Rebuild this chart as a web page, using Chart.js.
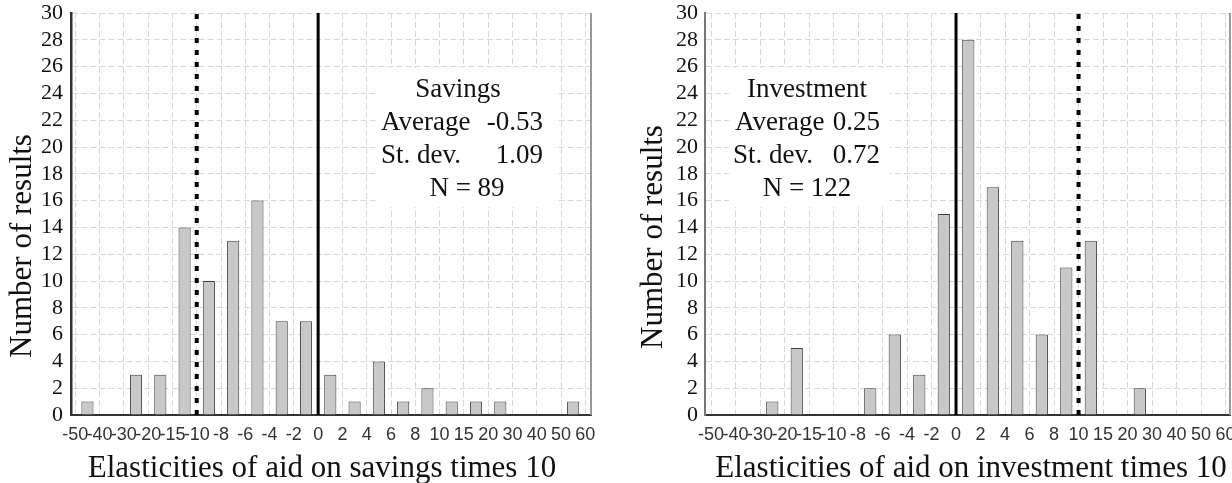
<!DOCTYPE html>
<html><head><meta charset="utf-8">
<script src="https://cdn.jsdelivr.net/npm/chart.js@4.4.0/dist/chart.umd.min.js"></script>
<style>
html,body{margin:0;padding:0;background:#fff;overflow:hidden;width:1232px;height:483px}
#cl{position:absolute;left:0;top:0}
#cr{position:absolute;left:616px;top:0}
</style></head><body>
<canvas id="cl" width="616" height="483"></canvas>
<canvas id="cr" width="616" height="483"></canvas>
<script>
// ---- data ----
const binEdges = ["-50","-40","-30","-20","-15","-10","-8","-6","-4","-2","0","2","4","6","8","10","15","20","30","40","50","60"];
const savingsCounts    = [1,0,3,3,14,10,13,16,7,7,3,1,4,1,2,1,1,1,0,0,1];
const investmentCounts = [0,0,1,5,0,0,2,6,3,15,28,17,13,6,11,13,0,2,0,0,0];
const yTickValues = [0,2,4,6,8,10,12,14,16,18,20,22,24,26,28,30];
const savingsRefLines    = {solid: "0", dotted: "-10"};
const investmentRefLines = {solid: "0", dotted: "10"};
const savingsStats    = {title: "Savings",    avgLabel: "Average", avg: "-0.53", sdLabel: "St. dev.", sd: "1.09", n: "N = 89"};
const investmentStats = {title: "Investment", avgLabel: "Average", avg: "0.25",  sdLabel: "St. dev.", sd: "0.72", n: "N = 122"};
const yTitle = "Number of results";
const savingsXTitle = "Elasticities of aid on savings times 10";
const investmentXTitle = "Elasticities of aid on investment times 10";

const SERIF = '"Liberation Serif","Times New Roman",serif';
const SANS = '"Liberation Sans Narrow","Arial Narrow","Liberation Sans",Arial,sans-serif';

function makeChart(id, counts, refLines, stats, xTitle, cfg) {
  const data = counts.map((v, i) => ({x: i + 0.5, y: v}));
  const refPlugin = {
    id: 'deco' + id,
    beforeDatasetsDraw(chart) {
      const ctx = chart.ctx;
      const a = chart.chartArea;
      ctx.save();
      ctx.fillStyle = '#fff';
      ctx.fillRect(cfg.box[0], cfg.box[1], cfg.box[2] - cfg.box[0], cfg.box[3] - cfg.box[1]);
      ctx.strokeStyle = '#999';
      ctx.lineWidth = 2;
      ctx.beginPath();
      ctx.moveTo(a.right, a.top);
      ctx.lineTo(a.right, a.bottom);
      ctx.stroke();
      ctx.restore();
    },
    afterDatasetsDraw(chart) {
      const ctx = chart.ctx;
      const xs = chart.scales.x;
      const ys = chart.scales.y;
      ctx.save();
      const xs0 = xs.getPixelForValue(binEdges.indexOf(refLines.solid));
      ctx.strokeStyle = '#000';
      ctx.lineWidth = 3;
      ctx.beginPath();
      ctx.moveTo(xs0, ys.getPixelForValue(0));
      ctx.lineTo(xs0, ys.getPixelForValue(30));
      ctx.stroke();
      const xd = xs.getPixelForValue(binEdges.indexOf(refLines.dotted));
      ctx.lineWidth = 4;
      ctx.setLineDash([5, 7]);
      ctx.beginPath();
      ctx.moveTo(xd, ys.getPixelForValue(0));
      ctx.lineTo(xd, ys.getPixelForValue(30));
      ctx.stroke();
      ctx.setLineDash([]);
      ctx.fillStyle = '#111';
      ctx.font = '27px ' + SERIF;
      ctx.textBaseline = 'alphabetic';
      ctx.textAlign = 'center';
      ctx.fillText(stats.title, cfg.titleX, 96.5);
      ctx.fillText(stats.n, cfg.nX, 196);
      ctx.textAlign = 'left';
      ctx.fillText(stats.avgLabel, cfg.avgL, 130);
      ctx.fillText(stats.sdLabel, cfg.sdL, 163);
      ctx.textAlign = 'right';
      ctx.fillText(stats.avg, cfg.numR, 130);
      ctx.fillText(stats.sd, cfg.numR, 163);
      ctx.font = '31px ' + SERIF;
      ctx.textAlign = 'center';
      ctx.fillText(xTitle, cfg.xTitleX, 477);
      ctx.translate(cfg.yTitleX, cfg.yTitleY);
      ctx.rotate(-Math.PI / 2);
      ctx.fillText(yTitle, 0, 0);
      ctx.restore();
    }
  };
  return new Chart(document.getElementById(id), {
    type: 'bar',
    data: {
      datasets: [{
        data: data,
        backgroundColor: '#c8c8c8',
        borderColor: '#404040',
        borderWidth: 1,
        categoryPercentage: 1,
        barPercentage: 0.5
      }]
    },
    options: {
      responsive: false,
      animation: false,
      devicePixelRatio: 1,
      layout: {padding: {left: 0, right: cfg.padRight, top: 13, bottom: 0}},
      plugins: {legend: {display: false}, tooltip: {enabled: false}},
      scales: {
        x: {
          type: 'linear',
          offset: false,
          min: cfg.xmin, max: cfg.xmax,
          afterBuildTicks: s => { s.ticks = binEdges.map((_, i) => ({value: i})); },
          afterFit: s => { s.height = 68; s.paddingLeft = 0; s.paddingRight = 0; },
          grid: {offset: false, color: '#d8d8d8', lineWidth: 1, drawTicks: false},
          border: {display: true, color: '#333', width: 2, dash: [6, 3]},
          ticks: {
            autoSkip: false, maxRotation: 0, minRotation: 0, padding: 9,
            color: '#333', font: {family: SANS, size: 18},
            callback: (v) => binEdges[v]
          }
        },
        y: {
          min: 0, max: 30,
          afterBuildTicks: s => { s.ticks = yTickValues.map(v => ({value: v})); },
          afterFit: s => { s.width = cfg.yWidth; s.paddingTop = 0; s.paddingBottom = 0; },
          grid: {color: '#d8d8d8', lineWidth: 1, drawTicks: false},
          border: {display: true, color: cfg.yAxisColor, width: cfg.yAxisWidth, dash: [6, 3]},
          ticks: {
            autoSkip: false,
            padding: cfg.yPad, color: '#111', font: {family: SERIF, size: 22},
            callback: v => String(v)
          }
        }
      }
    },
    plugins: [refPlugin]
  });
}

makeChart('cl', savingsCounts, savingsRefLines, savingsStats, savingsXTitle, {
  padRight: 25, yWidth: 71, yPad: 8, xmin: -0.177, xmax: 21.235,
  yAxisColor: '#333', yAxisWidth: 2.5,
  box: [378, 68, 555, 207],
  titleX: 458, nX: 467, avgL: 381, sdL: 381, numR: 543,
  xTitleX: 322, yTitleX: 31, yTitleY: 246
});
makeChart('cr', investmentCounts, investmentRefLines, investmentStats, investmentXTitle, {
  padRight: 2, yWidth: 89, yPad: 7, xmin: -0.245, xmax: 21.18,
  yAxisColor: '#777', yAxisWidth: 2,
  box: [113, 68, 274, 207],
  titleX: 191, nX: 191, avgL: 119, sdL: 117, numR: 264,
  xTitleX: 355, yTitleX: 46, yTitleY: 237
});
</script>
</body></html>
